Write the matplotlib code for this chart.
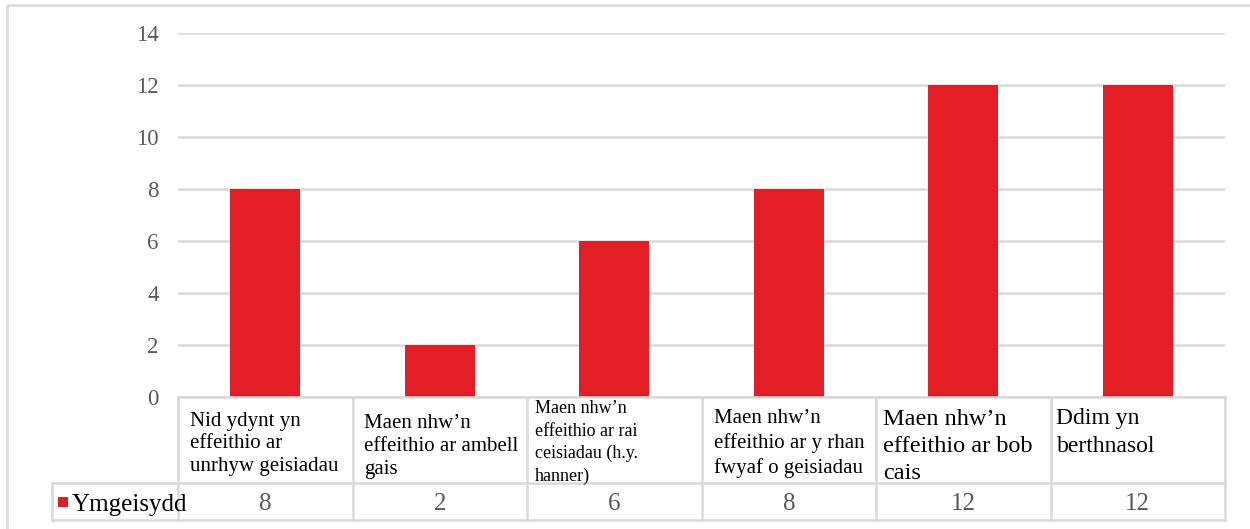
import matplotlib
matplotlib.use("Agg")
from matplotlib import pyplot as plt
from matplotlib import transforms as mtrans
from matplotlib.patches import Rectangle

# data
categories = [
    ["Nid ydynt yn", "effeithio ar", "unrhyw geisiadau"],
    ["Maen nhw\u2019n", "effeithio ar ambell", "gais"],
    ["Maen nhw\u2019n", "effeithio ar rai", "ceisiadau (h.y.", "hanner)"],
    ["Maen nhw\u2019n", "effeithio ar y rhan", "fwyaf o geisiadau"],
    ["Maen nhw\u2019n", "effeithio ar bob", "cais"],
    ["Ddim yn", "berthnasol"],
]
values = [8, 2, 6, 8, 12, 12]
series_name = "Ymgeisydd"
yticks = [0, 2, 4, 6, 8, 10, 12, 14]

# layout (pixels)
W, H = 1250, 529
RED = "#E41E26"
GRID = "#D9D9D9"
GRAY = "#595959"
FONT = "Liberation Serif"
label_size = [15, 15, 13, 15, 17.5, 17]
label_first = [426, 428, 413, 423, 425, 424]
label_step = [22.5, 23, 22.5, 25, 27, 28]
label_pad = [12, 12, 8, 12, 7, 6]


def main():
    fig = plt.figure(figsize=(W / 100, H / 100), dpi=100)
    px = mtrans.Affine2D().scale(1 / W, -1 / H).translate(0, 1) + fig.transFigure

    left, right, top, bottom = 178, 1225, 33, 397
    ax = fig.add_axes([left / W, 1 - bottom / H, (right - left) / W, (bottom - top) / H])
    x = list(range(len(values)))
    ax.bar(x, values, width=0.4, color=RED, zorder=2)
    ax.set_xlim(-0.5, len(values) - 0.5)
    ax.set_ylim(0, 14)
    ax.set_yticks(yticks)
    ax.set_yticklabels([str(t) for t in yticks], fontfamily=FONT, fontsize=16.5, color=GRAY)
    ax.tick_params(axis="y", length=0, pad=14)
    ax.set_xticks([])
    ax.yaxis.grid(True, color=GRID, linewidth=1.8, zorder=0)
    for s in ax.spines.values():
        s.set_visible(False)

    # outer chart frame
    fig.patches.append(Rectangle((7, 5), 1300, 600, transform=px, fill=False,
                                 edgecolor=GRID, linewidth=1.8))

    # data table
    bt = mtrans.blended_transform_factory(ax.transData, px)
    n = len(values)
    lw = 1.8
    ax.plot([-0.5, n - 0.5], [397, 397], transform=bt, color=GRID, lw=lw, clip_on=False)
    leg_left = -0.5 - (178 - 52) / ((right - left) / n)
    for yy in (483, 520):
        ax.plot([leg_left, n - 0.5], [yy, yy], transform=bt, color=GRID, lw=lw, clip_on=False)
    ax.plot([leg_left, leg_left], [483, 520], transform=bt, color=GRID, lw=lw, clip_on=False)
    for i in range(n + 1):
        ax.plot([i - 0.5, i - 0.5], [397, 520], transform=bt, color=GRID, lw=lw, clip_on=False)

    colw = (right - left) / n
    for i, lines in enumerate(categories):
        for j, line in enumerate(lines):
            ax.text(i - 0.5 + label_pad[i] / colw, label_first[i] + j * label_step[i], line,
                    transform=bt, ha="left", va="baseline", fontfamily=FONT,
                    fontsize=label_size[i], color="black", clip_on=False)
        ax.text(i, 502, str(values[i]), transform=bt, ha="center", va="center_baseline",
                fontfamily=FONT, fontsize=18, color=GRAY, clip_on=False)

    fig.patches.append(Rectangle((58, 497), 10, 10, transform=px, facecolor=RED, edgecolor="none"))
    fig.text(72, 502, series_name, transform=px, ha="left", va="center_baseline",
             fontfamily=FONT, fontsize=18, color="black")

    fig.savefig("out.png", dpi=100)


if __name__ == "__main__":
    main()
